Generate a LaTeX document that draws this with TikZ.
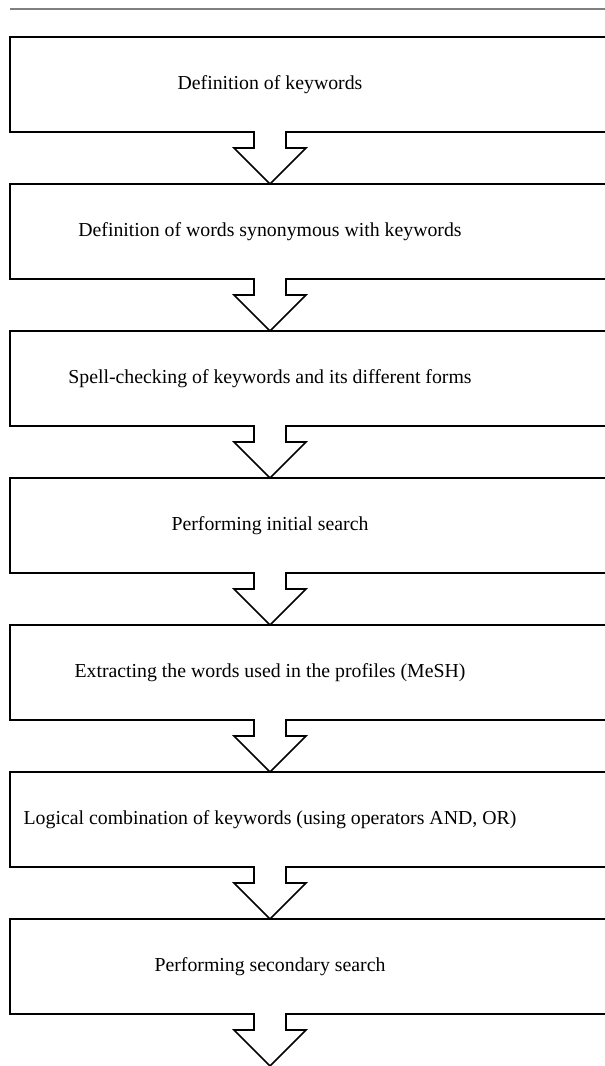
\documentclass[tikz,border=0pt]{standalone}
\usepackage{fontspec}
\setmainfont{Liberation Serif}
\usepackage{xcolor}
\usepackage{tikz}
\usetikzlibrary{
    positioning
}

\begin{document}
\begin{tikzpicture}[
    x=1pt, y=1pt,
    node distance=52pt,
    box/.style={
        rectangle,
        align=center,
        inner sep=0pt,
        outer sep=0pt,
        minimum width=520pt,
        minimum height=95pt,
        font=\fontsize{19.8}{23}\selectfont
    },
    frame/.style={draw=black, line width=1.6pt, line join=miter}
]

\clip (0,0) rectangle (605,-1066);

\draw[gray, line width=1.2pt] (10,-9) -- (605,-9);

\node[box] (keywords) at (270,-84.5) {Definition of keywords};
\node[box, below=of keywords] (synonyms) {Definition of words synonymous with keywords};
\node[box, below=of synonyms] (spelling) {Spell-checking of keywords and its different forms};
\node[box, below=of spelling] (initial) {Performing initial search};
\node[box, below=of initial] (mesh) {Extracting the words used in the profiles (MeSH)};
\node[box, below=of mesh] (logic) {Logical combination of keywords (using operators AND, OR)};
\node[box, below=of logic] (secondary) {Performing secondary search};
\coordinate[below=of secondary] (end);

% box frames with their block arrows
\draw[frame] ([xshift=90pt]keywords.north east) -- (keywords.north west) -- (keywords.south west)
    -- ([xshift=-16pt]keywords.south) -- ++(0,-16) -- ++(-20,0) -- (synonyms.north)
    -- ++(36,36) -- ++(-20,0) -- ++(0,16) -- ([xshift=90pt]keywords.south east);
\draw[frame] ([xshift=90pt]synonyms.north east) -- (synonyms.north west) -- (synonyms.south west)
    -- ([xshift=-16pt]synonyms.south) -- ++(0,-16) -- ++(-20,0) -- (spelling.north)
    -- ++(36,36) -- ++(-20,0) -- ++(0,16) -- ([xshift=90pt]synonyms.south east);
\draw[frame] ([xshift=90pt]spelling.north east) -- (spelling.north west) -- (spelling.south west)
    -- ([xshift=-16pt]spelling.south) -- ++(0,-16) -- ++(-20,0) -- (initial.north)
    -- ++(36,36) -- ++(-20,0) -- ++(0,16) -- ([xshift=90pt]spelling.south east);
\draw[frame] ([xshift=90pt]initial.north east) -- (initial.north west) -- (initial.south west)
    -- ([xshift=-16pt]initial.south) -- ++(0,-16) -- ++(-20,0) -- (mesh.north)
    -- ++(36,36) -- ++(-20,0) -- ++(0,16) -- ([xshift=90pt]initial.south east);
\draw[frame] ([xshift=90pt]mesh.north east) -- (mesh.north west) -- (mesh.south west)
    -- ([xshift=-16pt]mesh.south) -- ++(0,-16) -- ++(-20,0) -- (logic.north)
    -- ++(36,36) -- ++(-20,0) -- ++(0,16) -- ([xshift=90pt]mesh.south east);
\draw[frame] ([xshift=90pt]logic.north east) -- (logic.north west) -- (logic.south west)
    -- ([xshift=-16pt]logic.south) -- ++(0,-16) -- ++(-20,0) -- (secondary.north)
    -- ++(36,36) -- ++(-20,0) -- ++(0,16) -- ([xshift=90pt]logic.south east);
\draw[frame] ([xshift=90pt]secondary.north east) -- (secondary.north west) -- (secondary.south west)
    -- ([xshift=-16pt]secondary.south) -- ++(0,-16) -- ++(-20,0) -- (end)
    -- ++(36,36) -- ++(-20,0) -- ++(0,16) -- ([xshift=90pt]secondary.south east);

\end{tikzpicture}
\end{document}
